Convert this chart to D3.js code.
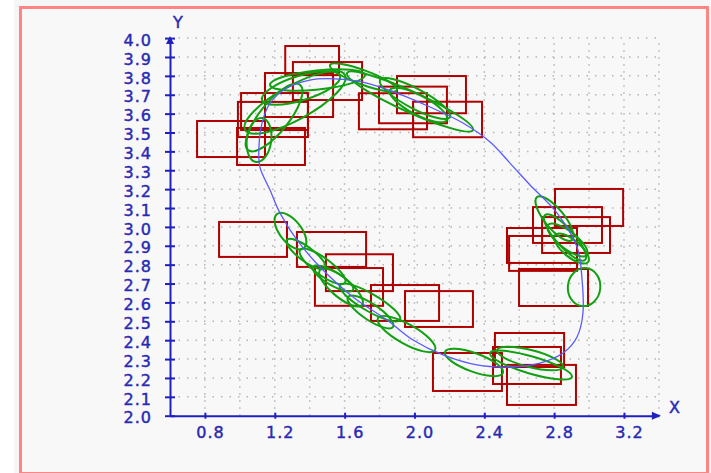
<!DOCTYPE html>
<html>
<head>
<meta charset="utf-8">
<script src="https://cdn.jsdelivr.net/npm/d3@7"></script>
<style>
  html, body { margin: 0; padding: 0; background: #ffffff; }
  svg { display: block; }
  .tick text, .lbl { font-family: "DejaVu Sans", sans-serif; font-size: 16px; fill: #2a2ab4; stroke: #2a2ab4; stroke-width: 0.45px; letter-spacing: 1px; }
</style>
</head>
<body>
<svg id="chart" width="711" height="473"></svg>
<script>
'use strict';

// axis ticks and grid
var xTicks = [0.8, 1.2, 1.6, 2.0, 2.4, 2.8, 3.2];
var yTicks = [2.0, 2.1, 2.2, 2.3, 2.4, 2.5, 2.6, 2.7, 2.8, 2.9, 3.0, 3.1, 3.2, 3.3, 3.4, 3.5, 3.6, 3.7, 3.8, 3.9, 4.0];
var xGrid = [0.8, 1.0, 1.2, 1.4, 1.6, 1.8, 2.0, 2.2, 2.4, 2.6, 2.8, 3.0, 3.2, 3.4];
var yGrid = [2.1, 2.2, 2.3, 2.4, 2.5, 2.6, 2.7, 2.8, 2.9, 3.0, 3.1, 3.2, 3.3, 3.4, 3.5, 3.6, 3.7, 3.8, 3.9, 4.0];

// measurement boxes [x0, x1, y0, y1]
var boxes = [
  [0.755, 1.144, 3.370, 3.561],
  [0.984, 1.373, 3.328, 3.524],
  [1.007, 1.390, 3.513, 3.709],
  [0.989, 1.390, 3.476, 3.662],
  [1.144, 1.534, 3.582, 3.815],
  [1.260, 1.568, 3.804, 3.958],
  [1.304, 1.700, 3.672, 3.873],
  [1.682, 2.072, 3.517, 3.708],
  [1.797, 2.186, 3.549, 3.743],
  [1.900, 2.295, 3.602, 3.799],
  [1.992, 2.387, 3.475, 3.663],
  [2.805, 3.195, 3.005, 3.201],
  [2.679, 3.074, 2.915, 3.105],
  [2.731, 3.120, 2.862, 3.052],
  [2.530, 2.931, 2.809, 2.994],
  [2.542, 2.931, 2.767, 2.952],
  [2.599, 2.994, 2.581, 2.777],
  [1.946, 2.335, 2.470, 2.660],
  [1.751, 2.141, 2.502, 2.692],
  [0.881, 1.270, 2.841, 3.026],
  [1.327, 1.723, 2.788, 2.973],
  [1.493, 1.877, 2.660, 2.855],
  [1.430, 1.820, 2.582, 2.782],
  [2.461, 2.857, 2.258, 2.438],
  [2.450, 2.839, 2.168, 2.364],
  [2.106, 2.501, 2.131, 2.332],
  [2.530, 2.925, 2.057, 2.269]
];

// covariance ellipses: major axis ends [x1, y1, x2, y2] and minor/major ratio
var ellipses = [
  [1.127, 3.577, 1.093, 3.344, 0.55],
  [1.047, 3.407, 1.345, 3.752, 0.35],
  [1.030, 3.514, 1.602, 3.805, 0.30],
  [1.127, 3.672, 1.574, 3.799, 0.30],
  [1.173, 3.752, 1.717, 3.805, 0.20],
  [1.516, 3.857, 1.900, 3.725, 0.20],
  [1.614, 3.815, 2.335, 3.513, 0.15],
  [1.803, 3.778, 2.204, 3.582, 0.25],
  [1.860, 3.725, 2.186, 3.566, 0.30],
  [1.213, 3.068, 1.367, 2.888, 0.50],
  [1.270, 2.931, 1.488, 2.782, 0.30],
  [1.345, 2.878, 1.602, 2.703, 0.30],
  [1.419, 2.788, 1.648, 2.666, 0.30],
  [1.459, 2.772, 1.700, 2.586, 0.35],
  [1.574, 2.692, 1.917, 2.507, 0.25],
  [1.619, 2.629, 1.877, 2.470, 0.30],
  [1.791, 2.517, 2.118, 2.348, 0.30],
  [2.175, 2.338, 2.507, 2.226, 0.30],
  [2.433, 2.332, 2.902, 2.205, 0.20],
  [2.473, 2.348, 2.851, 2.258, 0.25],
  [2.702, 3.158, 2.902, 2.930, 0.35],
  [2.748, 3.063, 2.977, 2.825, 0.30],
  [2.765, 3.010, 2.988, 2.851, 0.35],
  [2.805, 2.957, 2.994, 2.814, 0.40],
  [2.983, 2.782, 2.960, 2.581, 0.85]
];

// estimated track
var trackX = [1.115, 1.110, 1.127, 1.173, 1.270, 1.402, 1.545, 1.705, 1.900, 2.089, 2.278, 2.433, 2.547, 2.662, 2.817, 2.931,
              2.960, 2.965, 2.931, 2.851, 2.719, 2.547, 2.358, 2.164, 1.992, 1.843, 1.648, 1.459, 1.327, 1.230, 1.173];
var trackY = [3.317, 3.434, 3.550, 3.656, 3.736, 3.778, 3.784, 3.767, 3.709, 3.635, 3.550, 3.450, 3.338, 3.222, 3.073, 2.893,
              2.719, 2.544, 2.417, 2.332, 2.279, 2.258, 2.269, 2.322, 2.401, 2.507, 2.629, 2.788, 2.931, 3.073, 3.195];

var svg = d3.select('#chart');

// page frame
svg.append('rect').attr('x', 14).attr('y', 0).attr('width', 697).attr('height', 473).attr('fill', '#f6f6f6');
svg.append('rect').attr('x', 20.5).attr('y', 7.5).attr('width', 687).attr('height', 466)
  .attr('fill', '#f8f8f8').attr('stroke', '#ff8585').attr('stroke-width', 3);

var x = d3.scaleLinear().domain([0.6, 3.4]).range([170, 658.9]);
var y = d3.scaleLinear().domain([2.0, 4.0]).range([415.7, 38.1]);

//Dotted grid
var grid = svg.append('g');
grid.selectAll('.hg').data(yGrid).enter().append('line')
  .attr('x1', x(0.6)).attr('x2', x(3.4))
  .attr('y1', function(d){ return y(d); }).attr('y2', function(d){ return y(d); })
  .attr('stroke', '#b4b4b4').attr('stroke-width', 1.5).attr('stroke-dasharray', '1.5,7');
grid.selectAll('.vg').data(xGrid).enter().append('line')
  .attr('x1', function(d){ return x(d); }).attr('x2', function(d){ return x(d); })
  .attr('y1', y(2.0)).attr('y2', y(4.0))
  .attr('stroke', '#b4b4b4').attr('stroke-width', 1.5).attr('stroke-dasharray', '1.5,5.5');

//Boxes
svg.append('g').selectAll('rect').data(boxes).enter().append('rect')
  .attr('x', function(d){ return x(d[0]); })
  .attr('y', function(d){ return y(d[3]); })
  .attr('width', function(d){ return x(d[1]) - x(d[0]); })
  .attr('height', function(d){ return y(d[2]) - y(d[3]); })
  .attr('fill', 'none').attr('stroke', '#b00000').attr('stroke-width', 2);

//Ellipses
svg.append('g').selectAll('ellipse').data(ellipses).enter().append('ellipse')
  .each(function(d){
    var x1 = x(d[0]), y1 = y(d[1]), x2 = x(d[2]), y2 = y(d[3]);
    var cx = (x1 + x2) / 2, cy = (y1 + y2) / 2;
    var half = Math.sqrt((x2 - x1) * (x2 - x1) + (y2 - y1) * (y2 - y1)) / 2;
    var ang = Math.atan2(y2 - y1, x2 - x1) * 180 / Math.PI;
    d3.select(this)
      .attr('cx', cx).attr('cy', cy)
      .attr('rx', half).attr('ry', half * d[4])
      .attr('transform', 'rotate(' + ang + ',' + cx + ',' + cy + ')');
  })
  .attr('fill', 'none').attr('stroke', '#10a010').attr('stroke-width', 2);

//Track
var line = d3.line()
  .x(function(d){ return x(d[0]); })
  .y(function(d){ return y(d[1]); })
  .curve(d3.curveCardinalClosed);
svg.append('path').datum(d3.zip(trackX, trackY))
  .attr('d', line).attr('fill', 'none').attr('stroke', '#5a5aff').attr('stroke-width', 1.3);

//Axes
var axisCol = '#2020c0';
var yAxis = svg.append('g').attr('transform', 'translate(' + x(0.6) + ',0)')
  .call(d3.axisLeft(y).tickValues(yTicks).tickFormat(d3.format('.1f')).tickSize(5).tickSizeOuter(0).tickPadding(13));
yAxis.selectAll('.tick line').attr('x2', -5).attr('x1', 5);
yAxis.selectAll('.tick text').attr('dy', '0.45em');

var xAxis = svg.append('g').attr('transform', 'translate(0,' + y(2.0) + ')')
  .call(d3.axisBottom(x).tickValues(xTicks).tickFormat(d3.format('.1f')).tickSize(3).tickSizeOuter(0).tickPadding(8));
xAxis.selectAll('.tick line').attr('y1', -3).attr('y2', 3);
xAxis.selectAll('.tick text').attr('dx', 5);

svg.selectAll('.domain, .tick line').attr('stroke', axisCol).attr('stroke-width', 2);
svg.selectAll('.tick text').attr('fill', axisCol);

//Arrow heads
svg.append('path')
  .attr('d', 'M' + (x(0.6) - 4) + ',' + (y(4.0) + 6) + 'L' + x(0.6) + ',' + (y(4.0) - 2) + 'L' + (x(0.6) + 4) + ',' + (y(4.0) + 6) + 'Z')
  .attr('fill', axisCol);
svg.append('path')
  .attr('d', 'M' + (x(3.4) - 7) + ',' + (y(2.0) - 4) + 'L' + (x(3.4) + 2) + ',' + y(2.0) + 'L' + (x(3.4) - 7) + ',' + (y(2.0) + 4) + 'Z')
  .attr('fill', axisCol);

svg.append('text').attr('class', 'lbl').attr('x', 173).attr('y', 28).text('Y');
svg.append('text').attr('class', 'lbl').attr('x', 669).attr('y', 413).text('X');
</script>
</body>
</html>
